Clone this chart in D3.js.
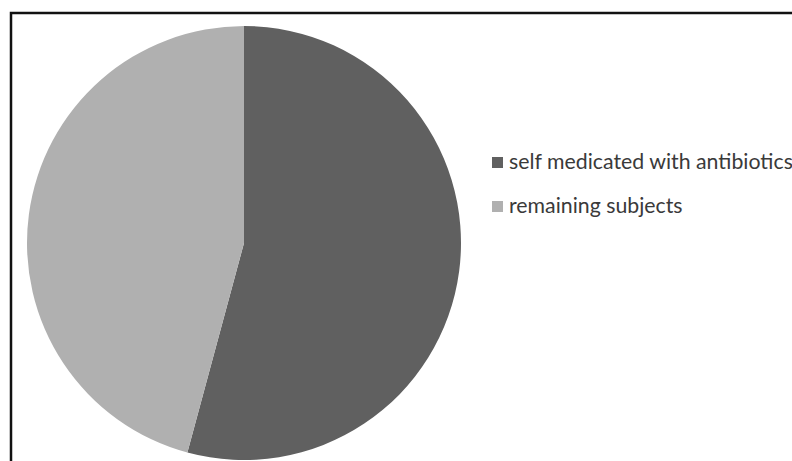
<!DOCTYPE html>
<html><head><meta charset="utf-8">
<script src="https://cdn.jsdelivr.net/npm/d3@7"></script>
<style>html,body{margin:0;padding:0;background:#fff;}svg{display:block;}</style>
</head><body>
<script>
const categories = ["self medicated with antibiotics", "remaining subjects"];
const values = [54.2, 45.8];
const colors = ["#606060", "#b0b0b0"];

const W = 792, H = 461;
const svg = d3.select("body").append("svg").attr("width", W).attr("height", H);
svg.append("rect").attr("width", W).attr("height", H).attr("fill", "#fff");
// frame (extends beyond right/bottom edges)
svg.append("rect").attr("x", 11).attr("y", 13).attr("width", 800).attr("height", 470)
  .attr("fill", "none").attr("stroke", "#111").attr("stroke-width", 2.5);

const cx = 244, cy = 243, r = 217;
const pie = d3.pie().sort(null).value(d => d)(values);
const arc = d3.arc().innerRadius(0).outerRadius(r);
svg.append("g").attr("transform", `translate(${cx},${cy})`)
  .selectAll("path").data(pie).join("path")
  .attr("d", arc).attr("fill", (d, i) => colors[i]);

const lg = svg.append("g");
const rowY = [169, 213];
categories.forEach((c, i) => {
  lg.append("rect").attr("x", 492).attr("y", rowY[i] - 12).attr("width", 11).attr("height", 11)
    .attr("fill", colors[i]);
  const t = lg.append("text").attr("x", 509).attr("y", rowY[i])
    .attr("font-family", "Lato, 'Open Sans', sans-serif").attr("font-size", 19)
    .attr("fill", "#3a3a3a").text(c);
  if (i === 0) {
    const w = t.node().getComputedTextLength();
    const fs = 19 * 284 / w;
    lg.selectAll("text").attr("font-size", fs);
  } else {
    t.attr("font-size", lg.select("text").attr("font-size"));
  }
});
</script>
</body></html>
